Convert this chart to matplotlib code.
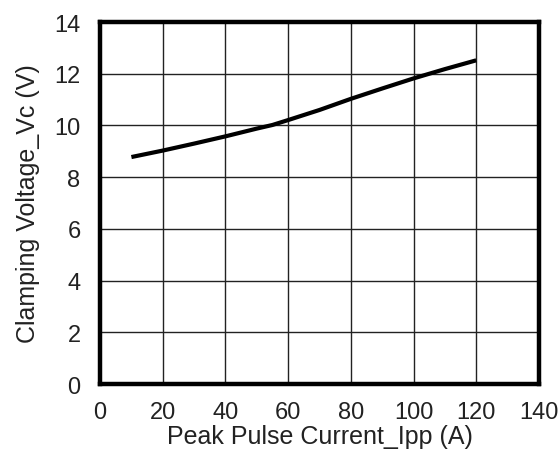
import matplotlib
matplotlib.use('Agg')
import matplotlib.pyplot as plt

# Peak pulse current (A) vs clamping voltage (V)
ipp = [10, 20, 30, 40, 50, 55, 60, 70, 80, 90, 100, 110, 120]
vc = [8.78, 9.03, 9.30, 9.58, 9.88, 10.02, 10.21, 10.60, 11.03, 11.43, 11.82, 12.18, 12.52]

x_ticks = [0, 20, 40, 60, 80, 100, 120, 140]
y_ticks = [0, 2, 4, 6, 8, 10, 12, 14]

plt.rcParams['font.family'] = ['Liberation Sans', 'DejaVu Sans']

fig = plt.figure(figsize=(5.59, 4.52), dpi=100)
ax = fig.add_axes([0.179, 0.148, 0.785, 0.801])

ax.plot(ipp, vc, color='black', linewidth=3, solid_capstyle='butt')

ax.set_xlim(0, 140)
ax.set_ylim(0, 14)
ax.set_xticks(x_ticks)
ax.set_yticks(y_ticks)
ax.grid(True, color='#222222', linewidth=1.0)
ax.tick_params(length=0, colors='#222222')
ax.tick_params(axis='x', labelsize=17, pad=12)
ax.tick_params(axis='y', labelsize=17, pad=14)
for s in ax.spines.values():
    s.set_linewidth(3.2)
    s.set_color('black')

ax.set_xlabel('Peak Pulse Current_Ipp (A)', fontsize=18, labelpad=1, color='#222222')
ax.set_ylabel('Clamping Voltage_Vc (V)', fontsize=18, labelpad=10, color='#222222')

fig.savefig('out.png', dpi=100)
